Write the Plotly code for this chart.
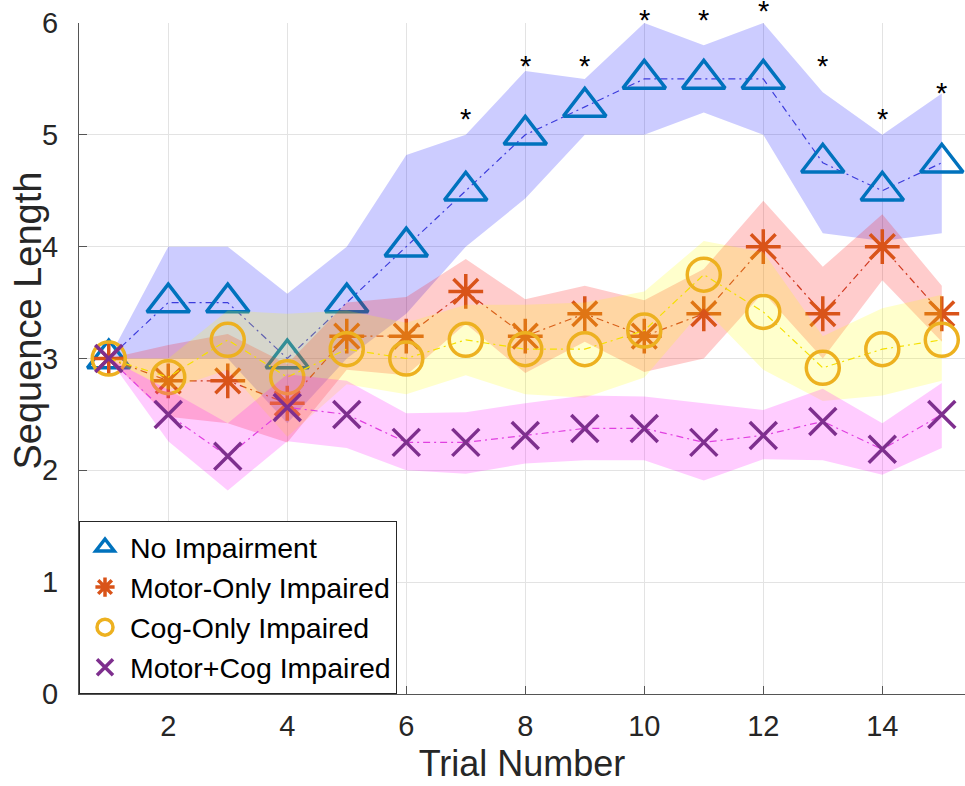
import plotly.graph_objects as go

# Trial index
trials = list(range(1, 16))

# No Impairment group
no_imp_mean = [3.0, 3.5, 3.5, 3.0, 3.5, 4.0, 4.5, 5.0, 5.25, 5.5, 5.5, 5.5, 4.75, 4.5, 4.75]
no_imp_upper = [3.0, 4.0, 4.0, 3.58, 4.0, 4.82, 5.0, 5.57, 5.5, 6.0, 5.8, 6.0, 5.38, 5.0, 5.37]
no_imp_lower = [3.0, 3.0, 3.0, 2.42, 3.0, 3.4, 4.0, 4.43, 5.0, 5.0, 5.2, 5.0, 4.12, 4.05, 4.12]

# Motor-Only Impaired group
motor_mean = [3.0, 2.8, 2.8, 2.6, 3.2, 3.2, 3.6, 3.2, 3.4, 3.2, 3.4, 4.0, 3.4, 4.0, 3.4]
motor_upper = [3.0, 3.12, 3.22, 2.95, 3.5, 3.55, 3.89, 3.53, 3.65, 3.52, 3.8, 4.41, 3.82, 4.29, 3.65]
motor_lower = [3.0, 2.48, 2.42, 2.25, 2.9, 2.85, 3.31, 2.87, 3.15, 2.88, 3.0, 3.59, 3.0, 3.7, 3.15]

# Cog-Only Impaired group
cog_mean = [3.0, 2.8333, 3.1667, 2.8333, 3.0833, 3.0, 3.1667, 3.0833, 3.0833, 3.25, 3.75, 3.4167, 2.9167, 3.0833, 3.1667]
cog_upper = [3.0, 3.0, 3.43, 3.4, 3.43, 3.32, 3.48, 3.48, 3.5, 3.6, 4.05, 3.95, 3.2, 3.45, 3.57]
cog_lower = [3.0, 2.72, 2.9, 2.3, 2.77, 2.68, 2.85, 2.68, 2.65, 2.83, 3.45, 2.9, 2.62, 2.67, 2.8]

# Motor+Cog Impaired group
mc_mean = [3.0, 2.5, 2.125, 2.5625, 2.5, 2.25, 2.25, 2.3125, 2.375, 2.375, 2.25, 2.3125, 2.4375, 2.1875, 2.5]
mc_upper = [3.0, 2.72, 2.42, 2.86, 2.8, 2.51, 2.52, 2.6, 2.67, 2.66, 2.6, 2.54, 2.73, 2.42, 2.78]
mc_lower = [3.0, 2.26, 1.82, 2.26, 2.2, 2.0, 1.97, 2.06, 2.09, 2.09, 1.91, 2.1, 2.09, 1.96, 2.2]

# Significance markers (trial, height of the asterisk)
sig_trials = [7, 8, 9, 10, 11, 12, 13, 14, 15]
sig_y = [5.19, 5.66, 5.66, 6.07, 6.07, 6.15, 5.66, 5.19, 5.42]

x_ticks = [2, 4, 6, 8, 10, 12, 14]
y_ticks = [0, 1, 2, 3, 4, 5, 6]
x_range = [0.5, 15.39]
y_range = [0, 6]

FONT = "Liberation Sans, Arial, Helvetica, sans-serif"
TXT = "#262626"

groups = [
    dict(name="No Impairment", mean=no_imp_mean, up=no_imp_upper, lo=no_imp_lower,
         band="rgba(0,0,255,0.2)", line="#3c3cdc", mcol="#0072BD",
         symbol="triangle-up-open", size=37, lw=3.5),
    dict(name="Motor-Only Impaired", mean=motor_mean, up=motor_upper, lo=motor_lower,
         band="rgba(255,0,0,0.2)", line="#d03a20", mcol="#D95319",
         symbol="asterisk-open", size=29, lw=3.5),
    dict(name="Cog-Only Impaired", mean=cog_mean, up=cog_upper, lo=cog_lower,
         band="rgba(255,255,0,0.2)", line="#f5e000", mcol="#EDB120",
         symbol="circle-open", size=33, lw=3.5),
    dict(name="Motor+Cog Impaired", mean=mc_mean, up=mc_upper, lo=mc_lower,
         band="rgba(255,0,255,0.2)", line="#e040e0", mcol="#7E2F8E",
         symbol="x-thin-open", size=27, lw=3.5),
]

fig = go.Figure()

for g in groups:
    # shaded band
    fig.add_trace(go.Scatter(
        x=trials + trials[::-1], y=g["up"] + g["lo"][::-1],
        fill="toself", fillcolor=g["band"], mode="lines",
        line=dict(width=0), hoverinfo="skip", showlegend=False))
    # dash-dot connecting line
    fig.add_trace(go.Scatter(
        x=trials, y=g["mean"], mode="lines",
        line=dict(color=g["line"], width=1.2, dash="7px,4px,2px,4px"),
        showlegend=False, hoverinfo="skip"))
    # markers
    fig.add_trace(go.Scatter(
        x=trials, y=g["mean"], mode="markers", name=g["name"],
        marker=dict(symbol=g["symbol"], size=g["size"], color=g["mcol"],
                    line=dict(color=g["mcol"], width=g["lw"])),
        cliponaxis=False))

# asterisks above significant trials; some sit above the top of the y range,
# so they are placed relative to the y domain to stay visible
for t, v in zip(sig_trials, sig_y):
    frac = (v - y_range[0]) / (y_range[1] - y_range[0])
    fig.add_annotation(x=t, xref="x", y=frac, yref="y domain", text="*",
                       showarrow=False, yshift=13,
                       font=dict(family=FONT, size=29, color="black"))

# y-axis label, set a little above the middle of the axis
fig.add_annotation(text="Sequence Length", textangle=-90, showarrow=False,
                   xref="paper", x=-0.058, xanchor="center",
                   yref="paper", y=0.556, yanchor="middle",
                   font=dict(family=FONT, size=38, color=TXT))

axis_common = dict(
    showgrid=True, gridcolor="#e3e3e3", gridwidth=1,
    zeroline=False, showline=True, linecolor="#555555", linewidth=1,
    ticks="inside", ticklen=8, tickcolor="#555555", tickwidth=1,
    tickfont=dict(family=FONT, size=29, color=TXT),
    mirror=False,
)

fig.update_xaxes(range=x_range, tickvals=x_ticks,
                 title=dict(text="Trial Number", font=dict(family=FONT, size=36, color=TXT), standoff=10),
                 ticklabelstandoff=6, **axis_common)
fig.update_yaxes(range=y_range, tickvals=y_ticks,
                 ticklabelstandoff=14, **axis_common)

fig.update_layout(
    width=965, height=786,
    margin=dict(l=79, r=0, t=23, b=92),
    plot_bgcolor="white", paper_bgcolor="white",
    font=dict(family=FONT, color=TXT),
    legend=dict(x=0, y=0, xanchor="left", yanchor="bottom",
                bgcolor="white", bordercolor="#262626", borderwidth=1,
                font=dict(family=FONT, size=28.5, color="black"),
                itemsizing="trace", itemwidth=40, tracegroupgap=0),
)

fig.write_html("out.html")
